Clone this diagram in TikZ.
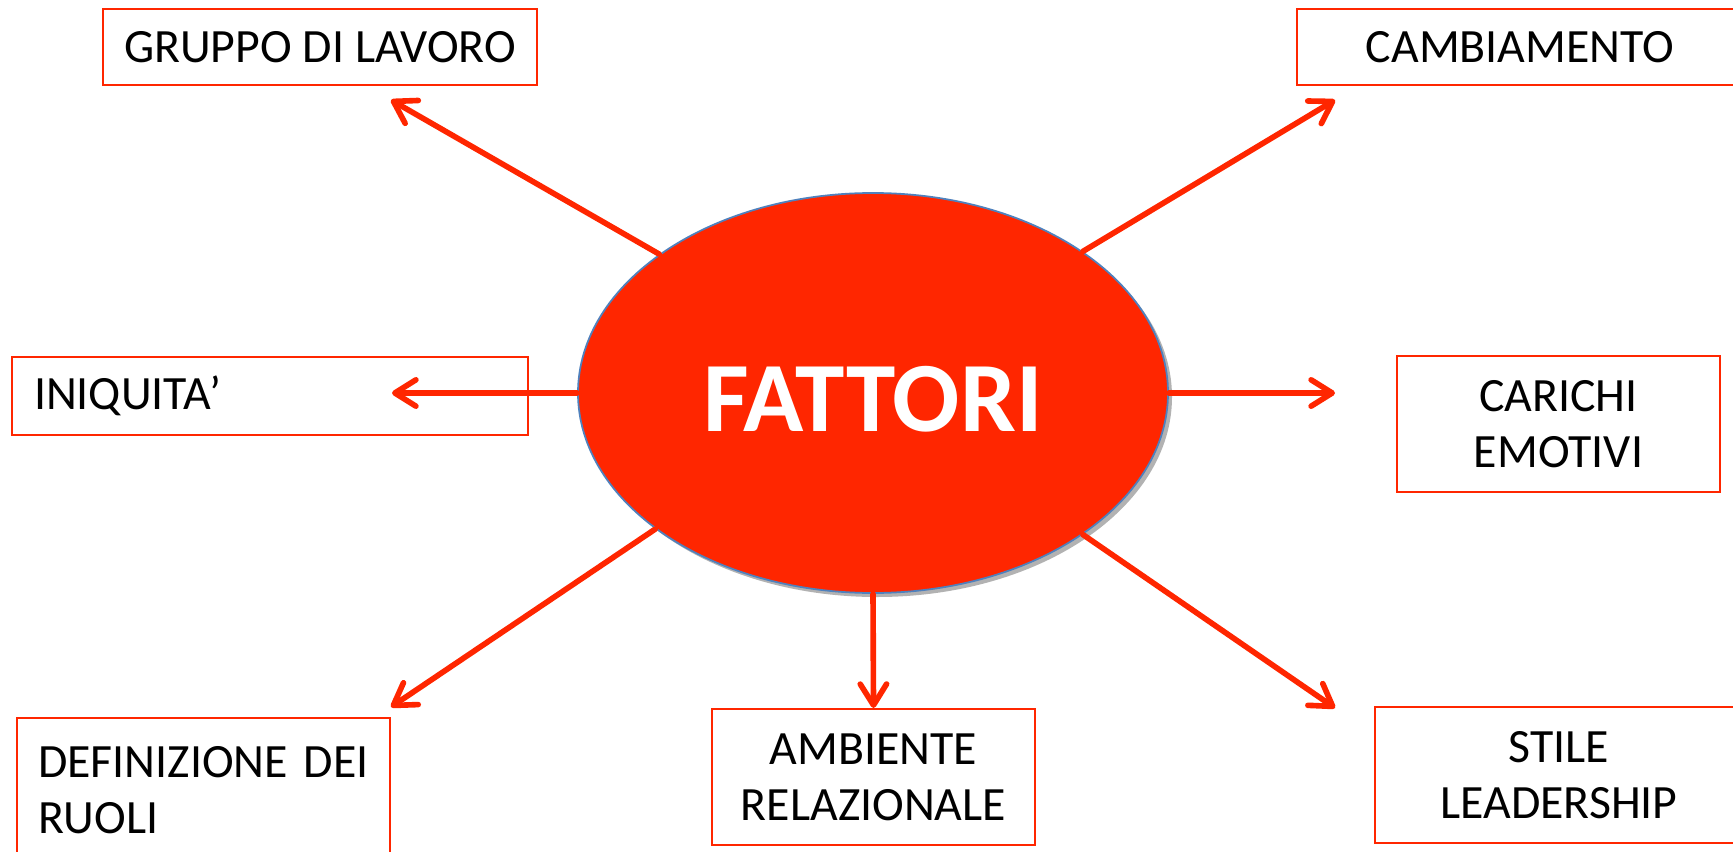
\documentclass[tikz,border=0pt]{standalone}
\usepackage{fontspec}
\setmainfont{Carlito}
\usetikzlibrary{arrows.meta,shapes.geometric,shadows}
\definecolor{rosso}{RGB}{255,38,0}
\definecolor{bordoblu}{RGB}{79,129,189}
\tikzset{
    riquadro/.style={draw=rosso,line width=0.6pt,inner sep=0pt,align=center,
        font=\fontsize{13.6}{16}\selectfont},
    freccia/.style={draw=rosso,line width=1.6pt,line cap=round,
        -{Straight Barb[length=6pt,width=7.5pt,round]}},
    centro/.style={ellipse,fill=rosso,draw=bordoblu,line width=0.5pt,inner sep=0pt,
        minimum width=5.9cm,minimum height=4cm,text=white,text height=0.76cm,text depth=0pt,
        font=\fontsize{28.3}{32}\selectfont\bfseries,
        drop shadow={shadow xshift=0.04cm,shadow yshift=-0.04cm,opacity=0.3,fill=black}}
}
\begin{document}
\begin{tikzpicture}
                \useasboundingbox (0,0) rectangle (17.33,8.51);
                \node[centro] (fattori) at (8.73,4.58) {FATTORI};
                \node[riquadro,minimum width=4.34cm,minimum height=0.76cm] (gruppo) at (3.20,8.04) {GRUPPO DI LAVORO};
                \node[riquadro,minimum width=4.46cm,minimum height=0.76cm] (cambiamento) at (15.20,8.04) {CAMBIAMENTO};
                \node[riquadro,align=left,text width=4.72cm,inner xsep=0.22cm,minimum height=0.78cm] (iniquita) at (2.70,4.55) {INIQUITA'};
                \node[riquadro,minimum width=3.23cm,minimum height=1.36cm] (carichi) at (15.585,4.27) {CARICHI\\EMOTIVI};
                \node[riquadro,align=left,text width=3.31cm,inner xsep=0.21cm,minimum height=1.44cm] (definizione) at (2.035,0.61) {\mbox{DEFINIZIONE DEI}\\RUOLI};
                \node[riquadro,minimum width=3.23cm,minimum height=1.36cm] (ambiente) at (8.735,0.74) {AMBIENTE\\RELAZIONALE};
                \node[riquadro,minimum width=3.68cm,minimum height=1.36cm] (stile) at (15.59,0.76) {STILE\\LEADERSHIP};
                \coordinate (gruppo-p) at (3.91,7.51);
                \coordinate (cambiamento-p) at (13.35,7.51);
                \coordinate (iniquita-p) at (3.92,4.58);
                \coordinate (carichi-p) at (13.35,4.58);
                \coordinate (definizione-p) at (3.91,1.44);
                \coordinate (stile-p) at (13.35,1.43);
                \draw[freccia] (fattori.147) -- (gruppo-p);
                \draw[freccia] (fattori.34) -- (cambiamento-p);
                \draw[freccia] (fattori.west) -- (iniquita-p);
                \draw[freccia] (fattori.east) -- (carichi-p);
                \draw[freccia] (fattori.212) -- (definizione-p);
                \draw[freccia] (fattori.south) -- (ambiente.north);
                \draw[freccia] (fattori.326) -- (stile-p);
\end{tikzpicture}
\end{document}
